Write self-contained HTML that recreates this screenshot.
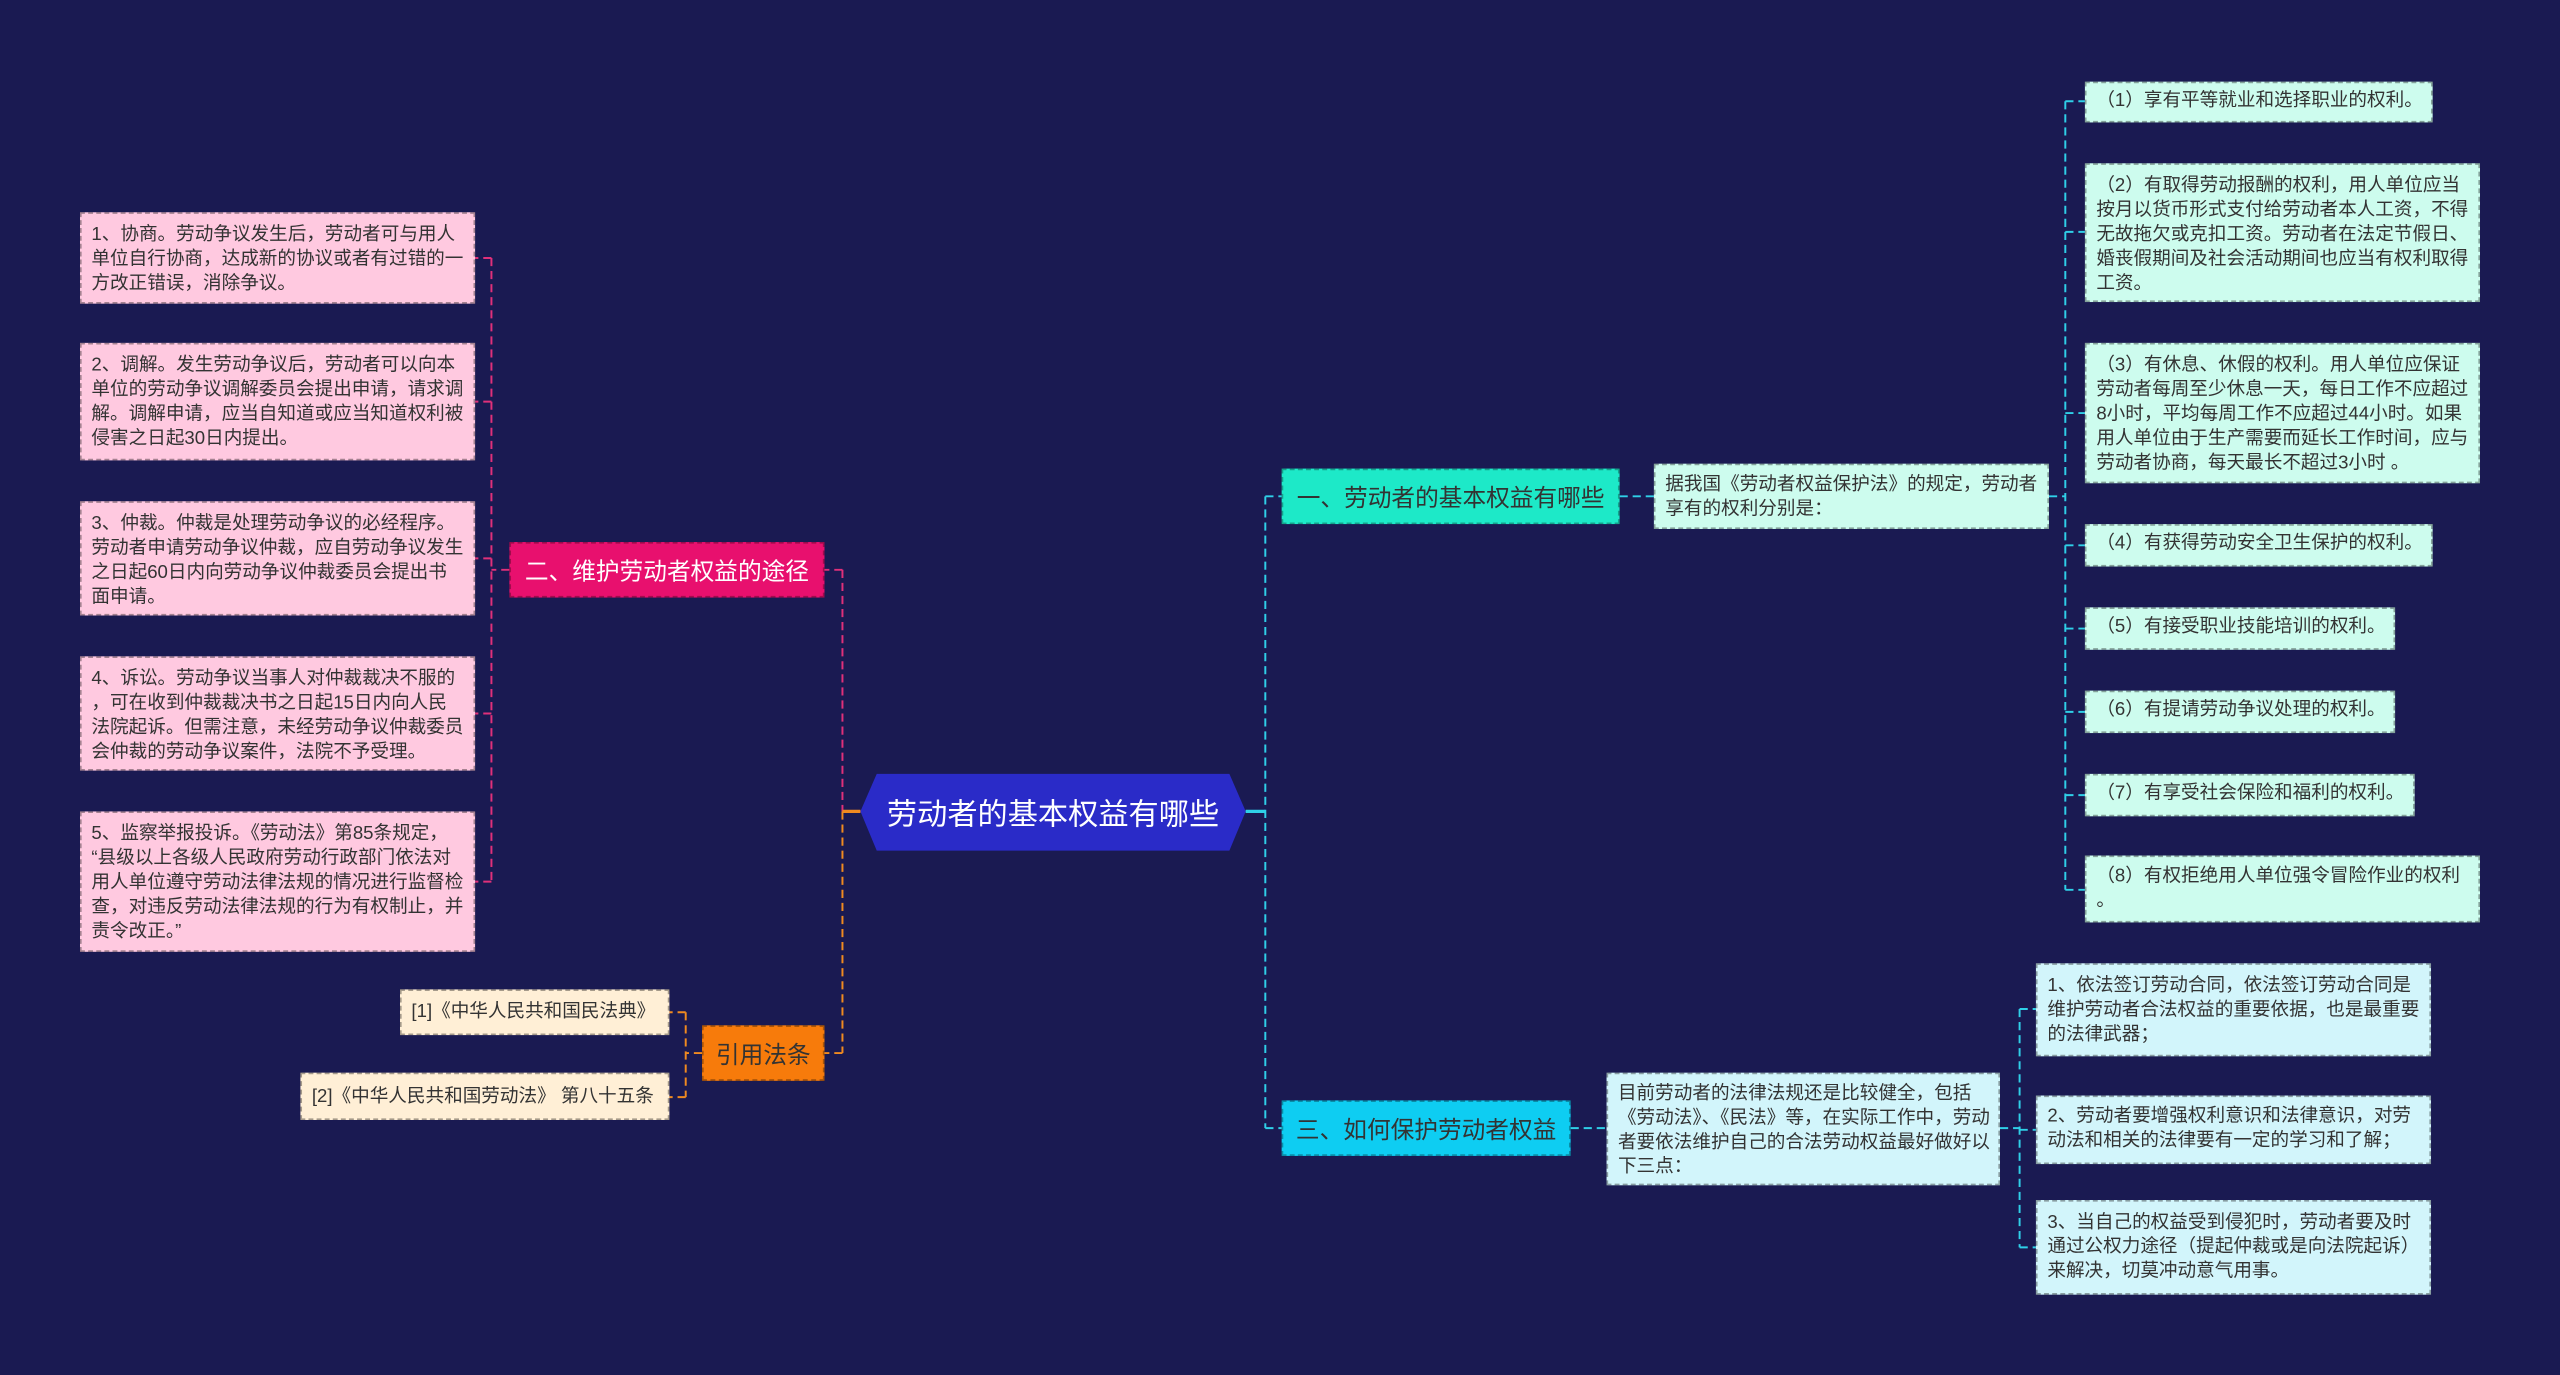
<!DOCTYPE html>
<html><head><meta charset="utf-8"><style>
html,body{margin:0;padding:0;background:#1a1a52;overflow:hidden;width:2560px;height:1375px}
#c{position:absolute;left:0;top:0;width:1568px;height:842px;transform:scale(1.632653);transform-origin:0 0;font-family:"Liberation Sans","Noto Sans CJK SC",sans-serif}
.b{position:absolute;box-sizing:border-box;font-size:11.4px;line-height:15px;color:#333;padding:6px 5px 6px 6px;border:1px dashed rgba(0,0,0,0.35);word-break:break-all}
.nw{white-space:nowrap;overflow:hidden}
.p{background:#ffc9e0}.m{background:#cdfcee}.cy{background:#d2f5fb}.o{background:#ffefd6}
.t{position:absolute;box-sizing:border-box;font-size:14.5px;display:flex;align-items:center;justify-content:center;border:1px dashed rgba(0,0,0,0.3)}
svg{position:absolute;left:0;top:0}
</style></head><body><div id="c">
<svg width="1568" height="842" fill="none" stroke-width="1.2" stroke-dasharray="5,3">
<g stroke="#2fd0e8">
<path d="M763 497H775M775 304V691M775 304H785M775 691H785"/>
<path d="M992 304H1013M1255 304H1265M1265 62V545"/>
<path d="M1265 62H1277M1265 142H1277M1265 253H1277M1265 334H1277M1265 385H1277M1265 436H1277M1265 487H1277M1265 545H1277"/>
<path d="M962 691H984M1225 691H1237M1237 618V764M1237 618H1247M1237 692H1247M1237 764H1247"/>
</g>
<g stroke="#e0307a"><path d="M527 497H516M516 349V497M516 349H505M312 349H301M301 158V540M301 158H291M301 246H291M301 342H291M301 437H291M301 540H291"/></g>
<g stroke="#f08a20"><path d="M516 497V645M516 645H505M430 645H420M420 620V672M420 620H410M420 672H410"/><path d="M516 497H527" stroke-dasharray="none" stroke-width="2"/></g>
<path d="M763 497H775" stroke="#2fd0e8" stroke-dasharray="none" stroke-width="2"/>
</svg>
<svg width="1568" height="842"><polygon points="537,474 753,474 763,497 753,521 537,521 527,497" fill="#2a2bc8"/></svg>
<div style="position:absolute;left:527px;top:474px;width:236px;height:47px;display:flex;align-items:center;justify-content:center;color:#fff;font-size:18.5px">劳动者的基本权益有哪些</div>

<div class="t" style="left:785px;top:287px;width:207px;height:34px;background:#1de9c8;color:#333">一、劳动者的基本权益有哪些</div>
<div class="b m" style="left:1013px;top:284px;width:242px;height:40px;padding-top:5px">据我国《劳动者权益保护法》的规定，劳动者享有的权利分别是：</div>
<div class="b m nw" style="left:1277px;top:50px;width:213px;height:25px;padding-top:4px">（1）享有平等就业和选择职业的权利。</div>
<div class="b m" style="left:1277px;top:100px;width:242px;height:85px">（2）有取得劳动报酬的权利，用人单位应当按月以货币形式支付给劳动者本人工资，不得无故拖欠或克扣工资。劳动者在法定节假日、婚丧假期间及社会活动期间也应当有权利取得工资。</div>
<div class="b m" style="left:1277px;top:210px;width:242px;height:86px">（3）有休息、休假的权利。用人单位应保证劳动者每周至少休息一天，每日工作不应超过8小时，平均每周工作不应超过44小时。如果用人单位由于生产需要而延长工作时间，应与劳动者协商，每天最长不超过3小时 。</div>
<div class="b m nw" style="left:1277px;top:321px;width:213px;height:26px;padding-top:4px">（4）有获得劳动安全卫生保护的权利。</div>
<div class="b m nw" style="left:1277px;top:372px;width:190px;height:26px;padding-top:4px">（5）有接受职业技能培训的权利。</div>
<div class="b m nw" style="left:1277px;top:423px;width:190px;height:26px;padding-top:4px">（6）有提请劳动争议处理的权利。</div>
<div class="b m nw" style="left:1277px;top:474px;width:202px;height:26px;padding-top:4px">（7）有享受社会保险和福利的权利。</div>
<div class="b m" style="left:1277px;top:524px;width:242px;height:41px;padding-top:5px">（8）有权拒绝用人单位强令冒险作业的权利<br>。</div>

<div class="t" style="left:785px;top:674px;width:177px;height:34px;background:#0ecdf2;color:#333">三、如何保护劳动者权益</div>
<div class="b cy" style="left:984px;top:657px;width:241px;height:69px;padding-top:5px">目前劳动者的法律法规还是比较健全，包括《劳动法》、《民法》等，在实际工作中，劳动者要依法维护自己的合法劳动权益最好做好以下三点：</div>
<div class="b cy" style="left:1247px;top:590px;width:242px;height:57px">1、依法签订劳动合同，依法签订劳动合同是维护劳动者合法权益的重要依据，也是最重要的法律武器；</div>
<div class="b cy" style="left:1247px;top:671px;width:242px;height:42px;padding-top:5px">2、劳动者要增强权利意识和法律意识，对劳动法和相关的法律要有一定的学习和了解；</div>
<div class="b cy" style="left:1247px;top:735px;width:242px;height:58px">3、当自己的权益受到侵犯时，劳动者要及时通过公权力途径（提起仲裁或是向法院起诉）来解决，切莫冲动意气用事。</div>

<div class="t" style="left:312px;top:332px;width:193px;height:34px;background:#e8106e;color:#fff">二、维护劳动者权益的途径</div>
<div class="b p" style="left:49px;top:130px;width:242px;height:56px">1、协商。劳动争议发生后，劳动者可与用人单位自行协商，达成新的协议或者有过错的一方改正错误，消除争议。</div>
<div class="b p" style="left:49px;top:210px;width:242px;height:72px">2、调解。发生劳动争议后，劳动者可以向本单位的劳动争议调解委员会提出申请，请求调解。调解申请，应当自知道或应当知道权利被侵害之日起30日内提出。</div>
<div class="b p" style="left:49px;top:307px;width:242px;height:70px">3、仲裁。仲裁是处理劳动争议的必经程序。劳动者申请劳动争议仲裁，应自劳动争议发生之日起60日内向劳动争议仲裁委员会提出书面申请。</div>
<div class="b p" style="left:49px;top:402px;width:242px;height:70px">4、诉讼。劳动争议当事人对仲裁裁决不服的<br>，可在收到仲裁裁决书之日起15日内向人民法院起诉。但需注意，未经劳动争议仲裁委员会仲裁的劳动争议案件，法院不予受理。</div>
<div class="b p" style="left:49px;top:497px;width:242px;height:86px">5、监察举报投诉。《劳动法》第85条规定，<br>“县级以上各级人民政府劳动行政部门依法对用人单位遵守劳动法律法规的情况进行监督检查，对违反劳动法律法规的行为有权制止，并责令改正。”</div>

<div class="t" style="left:430px;top:628px;width:75px;height:34px;background:#f77b0b;color:#333">引用法条</div>
<div class="b o nw" style="left:245px;top:606px;width:165px;height:28px;padding-top:6px">[1]《中华人民共和国民法典》</div>
<div class="b o nw" style="left:184px;top:657px;width:226px;height:29px;padding-top:7px">[2]《中华人民共和国劳动法》 第八十五条</div>
</div></body></html>
